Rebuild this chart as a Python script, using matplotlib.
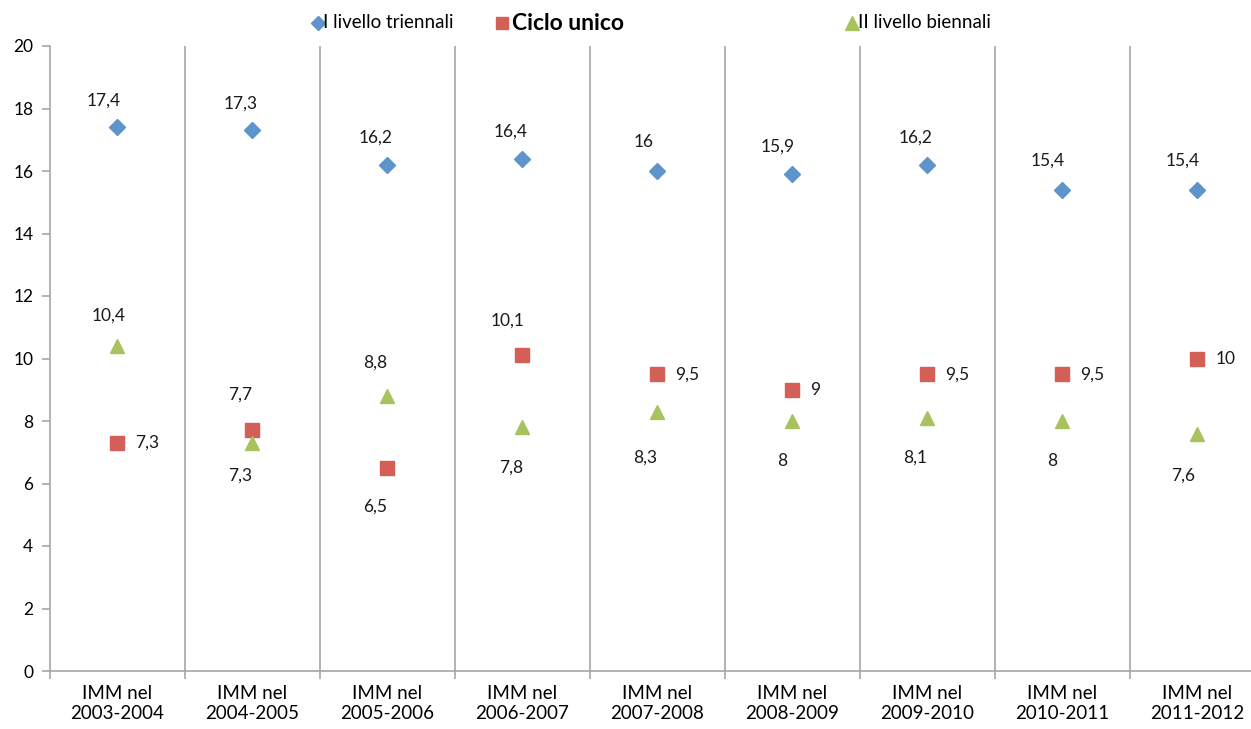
import matplotlib
matplotlib.use("Agg")
import matplotlib.pyplot as plt
import numpy as np

plt.rcParams['font.family'] = ['Lato', 'DejaVu Sans']

categories = ["IMM nel\n2003-2004", "IMM nel\n2004-2005", "IMM nel\n2005-2006",
              "IMM nel\n2006-2007", "IMM nel\n2007-2008", "IMM nel\n2008-2009",
              "IMM nel\n2009-2010", "IMM nel\n2010-2011", "IMM nel\n2011-2012"]
triennali = [17.4, 17.3, 16.2, 16.4, 16.0, 15.9, 16.2, 15.4, 15.4]
ciclo_unico = [7.3, 7.7, 6.5, 10.1, 9.5, 9.0, 9.5, 9.5, 10.0]
biennali = [10.4, 7.3, 8.8, 7.8, 8.3, 8.0, 8.1, 8.0, 7.6]
y_ticks = [0, 2, 4, 6, 8, 10, 12, 14, 16, 18, 20]

# data-label offsets in pixels (dx, dy; dy positive = upward) and alignment
tri_off = [(-14, 27), (-12, 27), (-12, 27), (-12, 27), (-14, 29),
           (-15, 27), (-12, 27), (-15, 29), (-15, 29)]
cic_off = [(18, 0), (-12, 36), (-12, -39), (-15, 35), (18, 0),
           (18, 0), (18, 0), (18, 0), (18, 0)]
bie_off = [(-9, 30), (-12, -33), (-12, 33), (-11, -40), (-12, -46),
           (-10, -40), (-12, -40), (-10, -40), (-14, -42)]

BLUE = "#5E93CB"
RED = "#D35F56"
GREEN = "#A8C25E"
GRID = "#A6A6A6"

W, H = 1251, 729
fig = plt.figure(figsize=(W / 100, H / 100), dpi=100)
ax = fig.add_axes([50 / W, 58 / H, 1215 / W, 625 / H])

x = np.arange(len(categories))
ax.set_xlim(-0.5, len(categories) - 0.5)
ax.set_ylim(0, 20)

for b in np.arange(0.5, len(categories) - 0.5, 1.0):
    ax.axvline(b, color=GRID, lw=1.2, zorder=1)

ax.plot(x, triennali, ls='none', marker='D', ms=8.5, color=BLUE, zorder=3, clip_on=False)
ax.plot(x, ciclo_unico, ls='none', marker='s', ms=10, color=RED, zorder=3)
ax.plot(x, biennali, ls='none', marker='^', ms=10.5, color=GREEN, zorder=3)

PX = 72 / 100  # pixels -> points


def fmt(v):
    s = f"{v:.1f}".replace('.', ',')
    return s[:-2] if s.endswith(',0') else s


def label(xi, v, off):
    dx, dy = off
    ha = 'left' if dy == 0 else 'center'
    ax.annotate(fmt(v), (xi, v), xytext=(dx * PX, dy * PX), textcoords='offset points',
                ha=ha, va='center', fontsize=12.5, color='#1a1a1a', zorder=4)


for i in x:
    label(i, triennali[i], tri_off[i])
    label(i, ciclo_unico[i], cic_off[i])
    label(i, biennali[i], bie_off[i])

ax.set_yticks(y_ticks)
ax.set_yticklabels([str(t) for t in y_ticks], fontsize=12.5)
ax.set_xticks(x)
ax.set_xticklabels(categories, fontsize=13.5, linespacing=1.2)
ax.set_xticks(np.arange(-0.5, len(categories), 1.0), minor=True)
ax.tick_params(axis='x', which='major', length=0, pad=10)
ax.tick_params(axis='x', which='minor', length=6, color=GRID, width=1.2)
ax.tick_params(axis='y', length=6, color=GRID, width=1.2, pad=6)

for s in ['top', 'right']:
    ax.spines[s].set_visible(False)
for s in ['left', 'bottom']:
    ax.spines[s].set_color(GRID)
    ax.spines[s].set_linewidth(1.2)

# legend row across the top
ly = 1 - 23 / H
fig.lines.append(plt.Line2D([318 / W], [ly], marker='D', ms=7, color=BLUE, ls='none',
                            transform=fig.transFigure))
fig.text(323 / W, ly, "I livello triennali", fontsize=13.5, va='center', ha='left')
fig.lines.append(plt.Line2D([502 / W], [ly], marker='s', ms=9, color=RED, ls='none',
                            transform=fig.transFigure))
fig.text(512 / W, ly, "Ciclo unico", fontsize=16.5, fontweight='bold', va='center', ha='left')
fig.lines.append(plt.Line2D([852 / W], [ly], marker='^', ms=9.5, color=GREEN, ls='none',
                            transform=fig.transFigure))
fig.text(858 / W, ly, "II livello biennali", fontsize=13.5, va='center', ha='left')

fig.savefig("out.png", dpi=100)
